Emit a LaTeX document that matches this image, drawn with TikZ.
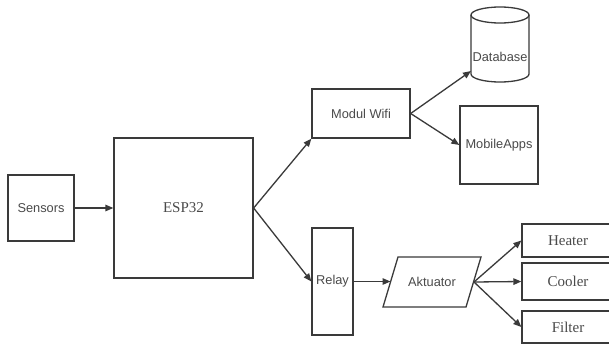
\documentclass[tikz,border=0pt]{standalone}
\usepackage{fontspec}
\setmainfont{Liberation Serif}
\setsansfont{Liberation Sans}
\usetikzlibrary{arrows.meta}
\definecolor{ln}{HTML}{3A3A3A}
\definecolor{tx}{HTML}{4A4A4A}
\begin{document}
\begin{tikzpicture}[x=1pt,y=-1pt,
  box/.style={draw=ln,line width=1.3pt,inner sep=0pt,text=tx},
  plain/.style={inner sep=0pt,text=tx},
  sans/.style={font=\sffamily\fontsize{12.8}{14}\selectfont},
  serif/.style={font=\rmfamily\fontsize{15}{17}\selectfont},
  conn/.style={draw=ln,line width=1.3pt,-{Triangle[length=8pt,width=6.5pt]}}]
\fill[white] (0,0) rectangle (609,345);
\useasboundingbox (0,0) rectangle (609,345);
\clip (0,0) rectangle (609,345);
% nodes
\node[box,sans,minimum width=66pt,minimum height=66pt] (sens) at (41,208) {Sensors};
\node[box,serif,minimum width=139pt,minimum height=140pt] (esp) at (183.5,208) {ESP32};
\node[box,sans,minimum width=98pt,minimum height=49pt] (wifi) at (361,113.5) {Modul Wifi};
\node[box,sans,minimum width=78pt,minimum height=78pt] (apps) at (499,145) {MobileApps};
\node[box,sans,minimum width=41pt,minimum height=107pt] (relay) at (332.5,281.5) {Relay};
\node[box,serif,minimum width=92pt,minimum height=33pt] (heat) at (568,240.5) {Heater};
\node[box,serif,minimum width=92pt,minimum height=37pt] (cool) at (568,281.5) {Cooler};
\node[box,serif,minimum width=92pt,minimum height=32pt] (filt) at (568,327) {Filter};
% database cylinder
\draw[draw=ln,line width=1.3pt] (500,15) ellipse [x radius=29pt, y radius=8pt];
\draw[draw=ln,line width=1.3pt] (471,15) -- (471,74) arc[start angle=180, end angle=360, x radius=29pt, y radius=8pt] -- (529,15);
\node[plain,sans] (db) at (500,57) {Database};
\coordinate (dbin) at (471,71);
% aktuator parallelogram
\draw[draw=ln,line width=1.3pt] (383,307) -- (398,257) -- (481,257) -- (466,307) -- cycle;
\node[plain,sans] (akt) at (432,282) {Aktuator};
\coordinate (aktL) at (390.5,281.5);
\coordinate (aktR) at (474,282);
% connectors
\draw[conn] (sens.east) -- (esp.west);
\draw[conn] (esp.east) -- (wifi.south west);
\draw[conn] (esp.east) -- (relay.west);
\draw[conn] (wifi.east) -- (dbin);
\draw[conn] (wifi.east) -- (apps.west);
\draw[conn] (relay.east) -- (aktL);
\draw[conn] (aktR) -- (heat.west);
\draw[conn] (aktR) -- (cool.west);
\draw[conn] (aktR) -- (filt.west);
\end{tikzpicture}
\end{document}
